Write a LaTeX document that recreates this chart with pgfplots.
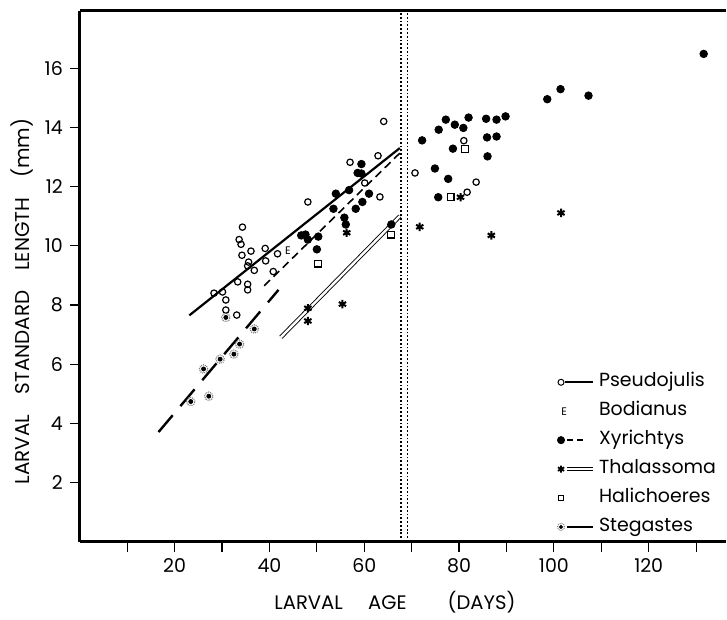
\documentclass[border=0pt]{standalone}
\usepackage{fontspec}
\setmainfont{Poppins}
\usepackage{pgfplots}
\usepackage{pgfplotstable}
\pgfplotsset{compat=1.18}

% larval age (days) vs standard length (mm)
\pgfplotstableread{
x y
64.1 14.20
62.9 13.04
57.0 12.82
60.1 12.12
63.3 11.65
48.1 11.48
34.3 10.63
33.6 10.21
34.0 10.05
36.1 9.82
39.1 9.91
34.2 9.68
41.7 9.73
35.6 9.45
39.2 9.49
36.8 9.17
35.4 9.32
40.8 9.13
33.3 8.78
35.4 8.70
35.4 8.51
28.3 8.40
30.1 8.44
30.8 8.17
30.8 7.83
33.1 7.66
70.7 12.46
81.0 13.55
83.6 12.15
81.7 11.81
}\pseudojulis

\pgfplotstableread{
x y
59.4 12.76
58.6 12.46
59.4 12.44
54.0 11.76
56.8 11.88
61.0 11.76
53.5 11.25
59.6 11.48
58.2 11.25
55.8 10.95
56.1 10.72
46.7 10.35
47.6 10.38
48.1 10.21
50.3 10.31
50.0 9.88
65.7 10.72
72.2 13.56
75.7 13.92
77.2 14.26
79.1 14.09
80.9 13.98
82.0 14.33
85.7 14.29
87.9 14.26
89.8 14.37
85.9 13.66
87.9 13.69
78.7 13.28
86.0 13.02
74.9 12.61
77.7 12.26
75.6 11.64
98.6 14.95
101.4 15.29
107.3 15.07
131.6 16.48
}\xyrichtys

\pgfplotstableread{
x y
50.2 9.40
65.6 10.38
81.3 13.27
78.2 11.64
}\halichoeres

\pgfplotstableread{
x y
56.3 10.44
48.1 7.89
55.4 8.03
48.1 7.46
71.7 10.64
80.3 11.64
86.8 10.35
101.5 11.11
}\thalassoma

\pgfplotstableread{
x y
36.8 7.19
33.7 6.68
32.5 6.34
29.6 6.17
26.1 5.84
27.2 4.92
23.4 4.74
30.8 7.58
}\stegastes

\pgfplotsset{
  stegmark/.style={only marks, mark=o, mark size=2.1pt,
    mark options={dash pattern=on 0.5pt off 0.5pt, line width=0.6pt, gray}},
}

\begin{document}
\begin{tikzpicture}
\begin{axis}[
  scale only axis,
  width=323.5pt, height=266pt,
  xmin=0, xmax=136.2,
  ymin=0, ymax=17.93,
  axis lines=left,
  axis line style={-, line width=1.5pt},
  tick align=outside,
  xtick={20,40,...,120},
  minor xtick={10,30,...,130},
  ytick={2,4,...,16},
  major tick length=5pt,
  minor tick length=5pt,
  tick style={line width=0.6pt, black},
  /pgf/number format/assume math mode=true,
  font=\fontsize{9.5}{11}\selectfont,
  tick label style={font=\fontsize{9.5}{11}\selectfont},
  xlabel={LARVAL\hspace{1.3em}AGE\hspace{2.1em}(DAYS)},
  ylabel={LARVAL\hspace{10pt}STANDARD\hspace{10pt}LENGTH\hspace{10pt}(mm)},
  xlabel style={at={(axis description cs:0.488,-0.113)}, anchor=center, font=\fontsize{9.8}{11}\selectfont},
  ylabel style={at={(axis description cs:-0.09,0.453)}, anchor=center, font=\fontsize{10}{11}\selectfont},
  clip=false,
  legend cell align=left,
  legend style={draw=none, fill=none, at={(axis cs:99.4,-0.1)}, anchor=south west,
    font=\fontsize{9.5}{11}\selectfont, row sep=1pt,
    nodes={text height=7pt, text depth=2.5pt},
    /tikz/every even column/.append style={column sep=3pt}},
]
% time barrier
\addplot[densely dotted, line width=0.9pt, forget plot] coordinates {(67.8,0) (67.8,17.93)};
\addplot[densely dotted, line width=0.9pt, forget plot] coordinates {(69.1,0) (69.1,17.93)};

% fitted lines
\addplot[line width=1.1pt, forget plot] coordinates {(23.1,7.65) (67.5,13.30)};
\addplot[line width=0.8pt, dash pattern=on 4pt off 2.5pt, forget plot] coordinates {(38.9,8.65) (67.5,13.13)};
\addplot[line width=1.2pt, dash pattern=on 11pt off 6pt, forget plot] coordinates {(16.6,3.71) (41.9,8.51)};
\addplot[double, double distance=1.2pt, line width=0.45pt, forget plot] coordinates {(42.4,6.91) (67.5,11.0)};

% points
\addplot[only marks, mark=o, mark size=1.6pt, mark options={line width=0.6pt}, forget plot] table {\pseudojulis};
\addplot[only marks, mark=*, mark size=1.9pt, forget plot] table {\xyrichtys};
\addplot[only marks, mark=square, mark size=1.7pt, mark options={line width=0.6pt}, forget plot] table {\halichoeres};
\addplot[only marks, mark=asterisk, mark size=2.1pt, mark options={line width=1pt}, forget plot] table {\thalassoma};
\addplot[stegmark, forget plot] table {\stegastes};
\addplot[only marks, mark=*, mark size=1pt, forget plot] table {\stegastes};
\addplot[only marks, mark=text, text mark={\fontsize{5.5}{6}\selectfont E}, forget plot] coordinates {(43.9,9.82)};

% frame top
\draw[line width=1.5pt] (rel axis cs:0,1) -- (rel axis cs:1,1);
\path (rel axis cs:0,0) ++(-40pt,-36.5pt);
\path (rel axis cs:1,1) ++(0pt,5.5pt);

% legend
\addlegendimage{legend image code/.code={
  \draw[line width=1.1pt] (2pt,0pt) -- (16pt,0pt);
  \draw plot[mark=o, mark size=1.5pt, mark options={line width=0.5pt, fill=white}] coordinates {(0pt,0pt)};}}
\addlegendentry{Pseudojulis}
\addlegendimage{legend image code/.code={
  \node[font=\fontsize{5.5}{6}\selectfont, inner sep=0pt] at (0pt,0pt) {E};
  \path (16pt,0pt);}}
\addlegendentry{Bodianus}
\addlegendimage{legend image code/.code={
  \draw[line width=0.8pt, dash pattern=on 3pt off 2pt] (3pt,0pt) -- (11pt,0pt);
  \path (16pt,0pt);
  \draw plot[mark=*, mark size=1.8pt] coordinates {(0pt,0pt)};}}
\addlegendentry{Xyrichtys}
\addlegendimage{legend image code/.code={
  \draw[double, double distance=1.2pt, line width=0.45pt] (3pt,0pt) -- (16pt,0pt);
  \draw plot[mark=asterisk, mark size=1.8pt, mark options={line width=0.9pt}] coordinates {(0pt,0pt)};}}
\addlegendentry{Thalassoma}
\addlegendimage{legend image code/.code={
  \draw plot[mark=square, mark size=1.4pt, mark options={line width=0.5pt}] coordinates {(0pt,0pt)};
  \path (16pt,0pt);}}
\addlegendentry{Halichoeres}
\addlegendimage{legend image code/.code={
  \draw[line width=1.1pt] (3pt,0pt) -- (16pt,0pt);
  \draw plot[mark=o, mark size=1.8pt, mark options={dash pattern=on 0.5pt off 0.5pt, line width=0.5pt, gray}] coordinates {(0pt,0pt)};
  \draw plot[mark=*, mark size=0.8pt] coordinates {(0pt,0pt)};}}
\addlegendentry{Stegastes}
\end{axis}
\end{tikzpicture}
\end{document}
